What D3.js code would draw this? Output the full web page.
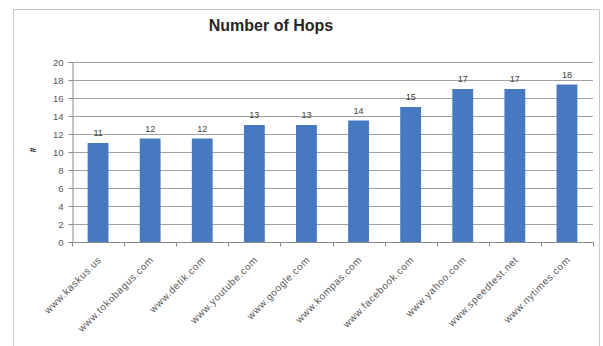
<!DOCTYPE html>
<html><head><meta charset="utf-8">
<script src="https://cdn.jsdelivr.net/npm/d3@7"></script>
<style>body{margin:0;background:#fff}svg{display:block}text{font-family:"Liberation Sans",Arial,sans-serif}</style>
</head><body><svg id="c" width="603" height="346"></svg>
<script>
const categories = ["www.kaskus.us","www.tokobagus.com","www.detik.com","www.youtube.com","www.google.com","www.kompas.com","www.facebook.com","www.yahoo.com","www.speedtest.net","www.nytimes.com"];
const hops = [11, 11.5, 11.5, 13, 13, 13.5, 15, 17, 17, 17.5];
const yTicks = [0,2,4,6,8,10,12,14,16,18,20];
const title = "Number of Hops";
const yLabel = "#";

const svg = d3.select("#c");
const m = {left:72, right:593, top:62, bottom:242};
svg.append("rect").attr("x",13.5).attr("y",9.5).attr("width",586).attr("height",345)
  .attr("fill","#fff").attr("stroke","#c8c8c8");

const x = d3.scaleBand().domain(categories).range([m.left,m.right]).paddingInner(0.6).paddingOuter(0.3);
const y = d3.scaleLinear().domain([0,20]).range([m.bottom,m.top]);

// gridlines
svg.append("g").selectAll("line").data(yTicks.filter(d=>d>0)).join("line")
  .attr("x1",m.left).attr("x2",m.right).attr("y1",d=>y(d)+0.5).attr("y2",d=>y(d)+0.5)
  .attr("stroke","#a0a0a0").attr("stroke-width",1);

// bars
svg.append("g").selectAll("rect").data(hops).join("rect")
  .attr("x",(d,i)=>x(categories[i])).attr("width",x.bandwidth())
  .attr("y",d=>y(d)).attr("height",d=>y(0)-y(d)).attr("fill","#4679c0");

// value labels
svg.append("g").selectAll("text").data(hops).join("text")
  .attr("x",(d,i)=>x(categories[i])+x.bandwidth()/2).attr("y",d=>y(d)-7)
  .attr("text-anchor","middle").attr("font-size",9).attr("fill","#404040")
  .text(d=>Math.round(d));

// y axis
const ya = svg.append("g").attr("transform",`translate(${m.left+0.5},0)`)
  .call(d3.axisLeft(y).tickValues(yTicks).tickSize(4).tickPadding(5));
ya.select(".domain").attr("stroke","#8a8a8a");
ya.selectAll(".tick line").attr("stroke","#8a8a8a");
ya.selectAll(".tick text").attr("font-size",9.5).attr("fill","#555").attr("font-family","Liberation Sans, Arial, sans-serif");

// x axis
const xa = svg.append("g").attr("transform",`translate(0,${m.bottom+0.5})`);
xa.append("line").attr("x1",m.left).attr("x2",m.right).attr("stroke","#8a8a8a");
const step = x.step();
xa.selectAll("line.t").data(d3.range(categories.length+1)).join("line").attr("class","t")
  .attr("x1",i=>Math.round(m.left+i*step)+0.5).attr("x2",i=>Math.round(m.left+i*step)+0.5)
  .attr("y1",0).attr("y2",4).attr("stroke","#8a8a8a");
xa.selectAll("text").data(categories).join("text")
  .attr("transform",d=>`translate(${x(d)+x.bandwidth()/2+4},18) rotate(-45)`)
  .attr("text-anchor","end").attr("font-size",10).attr("letter-spacing",0.6)
  .attr("fill","#5a5a5a").text(d=>d);

// title
svg.append("text").attr("x",271).attr("y",31).attr("text-anchor","middle")
  .attr("font-size",16).attr("font-weight","bold").attr("fill","#262626").text(title);

// y label
svg.append("text").attr("transform","translate(36,150) rotate(-90)").attr("text-anchor","middle")
  .attr("font-size",9).attr("font-weight","bold").attr("fill","#333").text(yLabel);
</script></body></html>
